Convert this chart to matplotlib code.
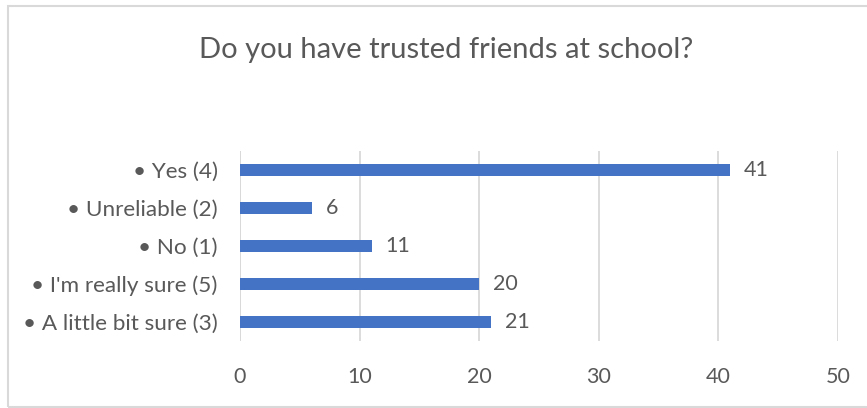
import numpy as np
import matplotlib
matplotlib.use("Agg")
import matplotlib.pyplot as plt
from matplotlib.patches import Rectangle

# data, top row first as in the picture
categories = ["\u2022 Yes (4)", "\u2022 Unreliable (2)", "\u2022 No (1)",
              "\u2022 I'm really sure (5)", "\u2022 A little bit sure (3)"]
counts = [41, 6, 11, 20, 21]
x_ticks = [0, 10, 20, 30, 40, 50]

BAR = "#4472C4"
TXT = "#595959"
GRID = "#D9D9D9"

plt.rcParams['font.family'] = ['Lato', 'DejaVu Sans']

fig = plt.figure(figsize=(8.67, 4.08), dpi=100)
ax = fig.add_axes([240/867, 67/408, 598/867, 190/408])

ypos = np.arange(len(categories))[::-1]
bars = ax.barh(ypos, counts, height=0.33, color=BAR, zorder=3)
for b, v in zip(bars, counts):
  ax.text(b.get_width() + 1.15, b.get_y() + b.get_height()/2, str(v),
          ha='left', va='center', color=TXT, fontsize=15.5)

ax.set_xlim(0, 50)
ax.set_ylim(-0.5, len(categories) - 0.5)
ax.set_xticks(x_ticks)
ax.set_yticks(ypos)
ax.set_yticklabels(categories)
ax.xaxis.grid(True, color=GRID, linewidth=1.3, zorder=0)
for s in ax.spines.values():
  s.set_visible(False)
ax.axvline(0, color=GRID, linewidth=1.3, zorder=1)
ax.tick_params(axis='x', length=0, pad=19, labelsize=15.5, labelcolor=TXT)
ax.tick_params(axis='y', length=0, pad=16, labelsize=16.2, labelcolor=TXT)

fig.text(446/867, 0.877, "Do you have trusted friends at school?",
         ha='center', va='center', fontsize=21, color=TXT)

fig.patches.append(Rectangle((8/867, 1/408), 1.1, 401/408, transform=fig.transFigure,
                             fill=False, edgecolor=GRID, linewidth=1.5, clip_on=False))

plt.savefig("out.png", dpi=100)
